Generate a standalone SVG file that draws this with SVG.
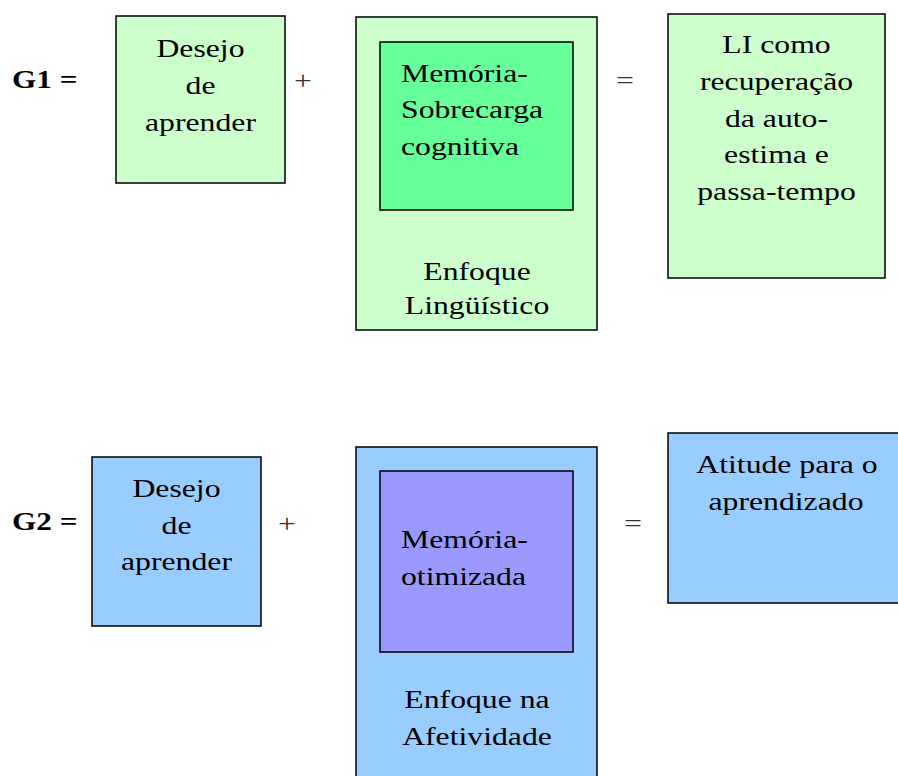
<svg xmlns="http://www.w3.org/2000/svg" width="898" height="776" viewBox="0 0 898 776" font-family="'Liberation Serif', Tinos, 'Times New Roman', 'DejaVu Serif', serif">
<style>
text{font-family:'Liberation Serif',Tinos,'Times New Roman','DejaVu Serif',serif;font-size:26px;fill:#000}
.c{text-anchor:middle}
.b{font-weight:bold}
.op{fill:#333}
.box{stroke:#000;stroke-width:1.5}
.lg{fill:#CCFFCC}
.dg{fill:#66FF99}
.lb{fill:#99CCFF}
.pu{fill:#9999FF}
</style>
<defs>
<clipPath id="clipL"><rect x="-100" y="-30" width="200" height="35"/></clipPath>
</defs>
<rect width="898" height="776" fill="#fff"/>
<g id="connectors">
<text transform="translate(303 89) scale(1.22 1)" class="c op">+</text>
<text transform="translate(625 89) scale(1.22 1)" class="c op">=</text>
<text transform="translate(287 532) scale(1.22 1)" class="c op">+</text>
<text transform="translate(633 532) scale(1.22 1)" class="c op">=</text>
</g>
<g id="g1-label"><text transform="translate(12 88) scale(1.2 1)" class="b">G1 =</text></g>
<g id="g1-desejo">
<rect x="116" y="16" width="169" height="167" class="box lg"/>
<text transform="translate(200.5 57) scale(1.22 1)" class="c">Desejo</text>
<text transform="translate(200.5 94) scale(1.22 1)" class="c">de</text>
<text transform="translate(200.5 131) scale(1.22 1)" class="c">aprender</text>
</g>
<g id="g1-enfoque">
<rect x="356" y="17" width="241" height="313" class="box lg"/>
<rect x="380" y="42" width="193" height="168" class="box dg"/>
<text transform="translate(401 82) scale(1.22 1)">Memória-</text>
<text transform="translate(401 118) scale(1.22 1)">Sobrecarga</text>
<text transform="translate(401 155) scale(1.22 1)">cognitiva</text>
<text transform="translate(477 280) scale(1.22 1)" class="c">Enfoque</text>
<text transform="translate(477 314) scale(1.22 1)" class="c" clip-path="url(#clipL)">Lingüístico</text>
</g>
<g id="g1-result">
<rect x="668" y="14" width="217" height="264" class="box lg"/>
<text transform="translate(776.5 53) scale(1.22 1)" class="c">LI como</text>
<text transform="translate(776.5 90) scale(1.22 1)" class="c">recuperação</text>
<text transform="translate(776.5 127) scale(1.22 1)" class="c">da auto-</text>
<text transform="translate(776.5 163) scale(1.22 1)" class="c">estima e</text>
<text transform="translate(776.5 200) scale(1.22 1)" class="c">passa-tempo</text>
</g>
<g id="g2-label"><text transform="translate(12 530) scale(1.2 1)" class="b">G2 =</text></g>
<g id="g2-desejo">
<rect x="92" y="457" width="169" height="169" class="box lb"/>
<text transform="translate(176.5 497) scale(1.22 1)" class="c">Desejo</text>
<text transform="translate(176.5 534) scale(1.22 1)" class="c">de</text>
<text transform="translate(176.5 570) scale(1.22 1)" class="c">aprender</text>
</g>
<g id="g2-enfoque">
<rect x="356" y="447" width="241" height="340" class="box lb"/>
<rect x="380" y="471" width="193" height="181" class="box pu"/>
<text transform="translate(401 548) scale(1.22 1)">Memória-</text>
<text transform="translate(401 585) scale(1.22 1)">otimizada</text>
<text transform="translate(477 708) scale(1.22 1)" class="c">Enfoque na</text>
<text transform="translate(477 745) scale(1.22 1)" class="c">Afetividade</text>
</g>
<g id="g2-result">
<rect x="668" y="433" width="242" height="170" class="box lb"/>
<text transform="translate(787 473) scale(1.22 1)" class="c">Atitude para o</text>
<text transform="translate(786 510) scale(1.22 1)" class="c">aprendizado</text>
</g>
</svg>
